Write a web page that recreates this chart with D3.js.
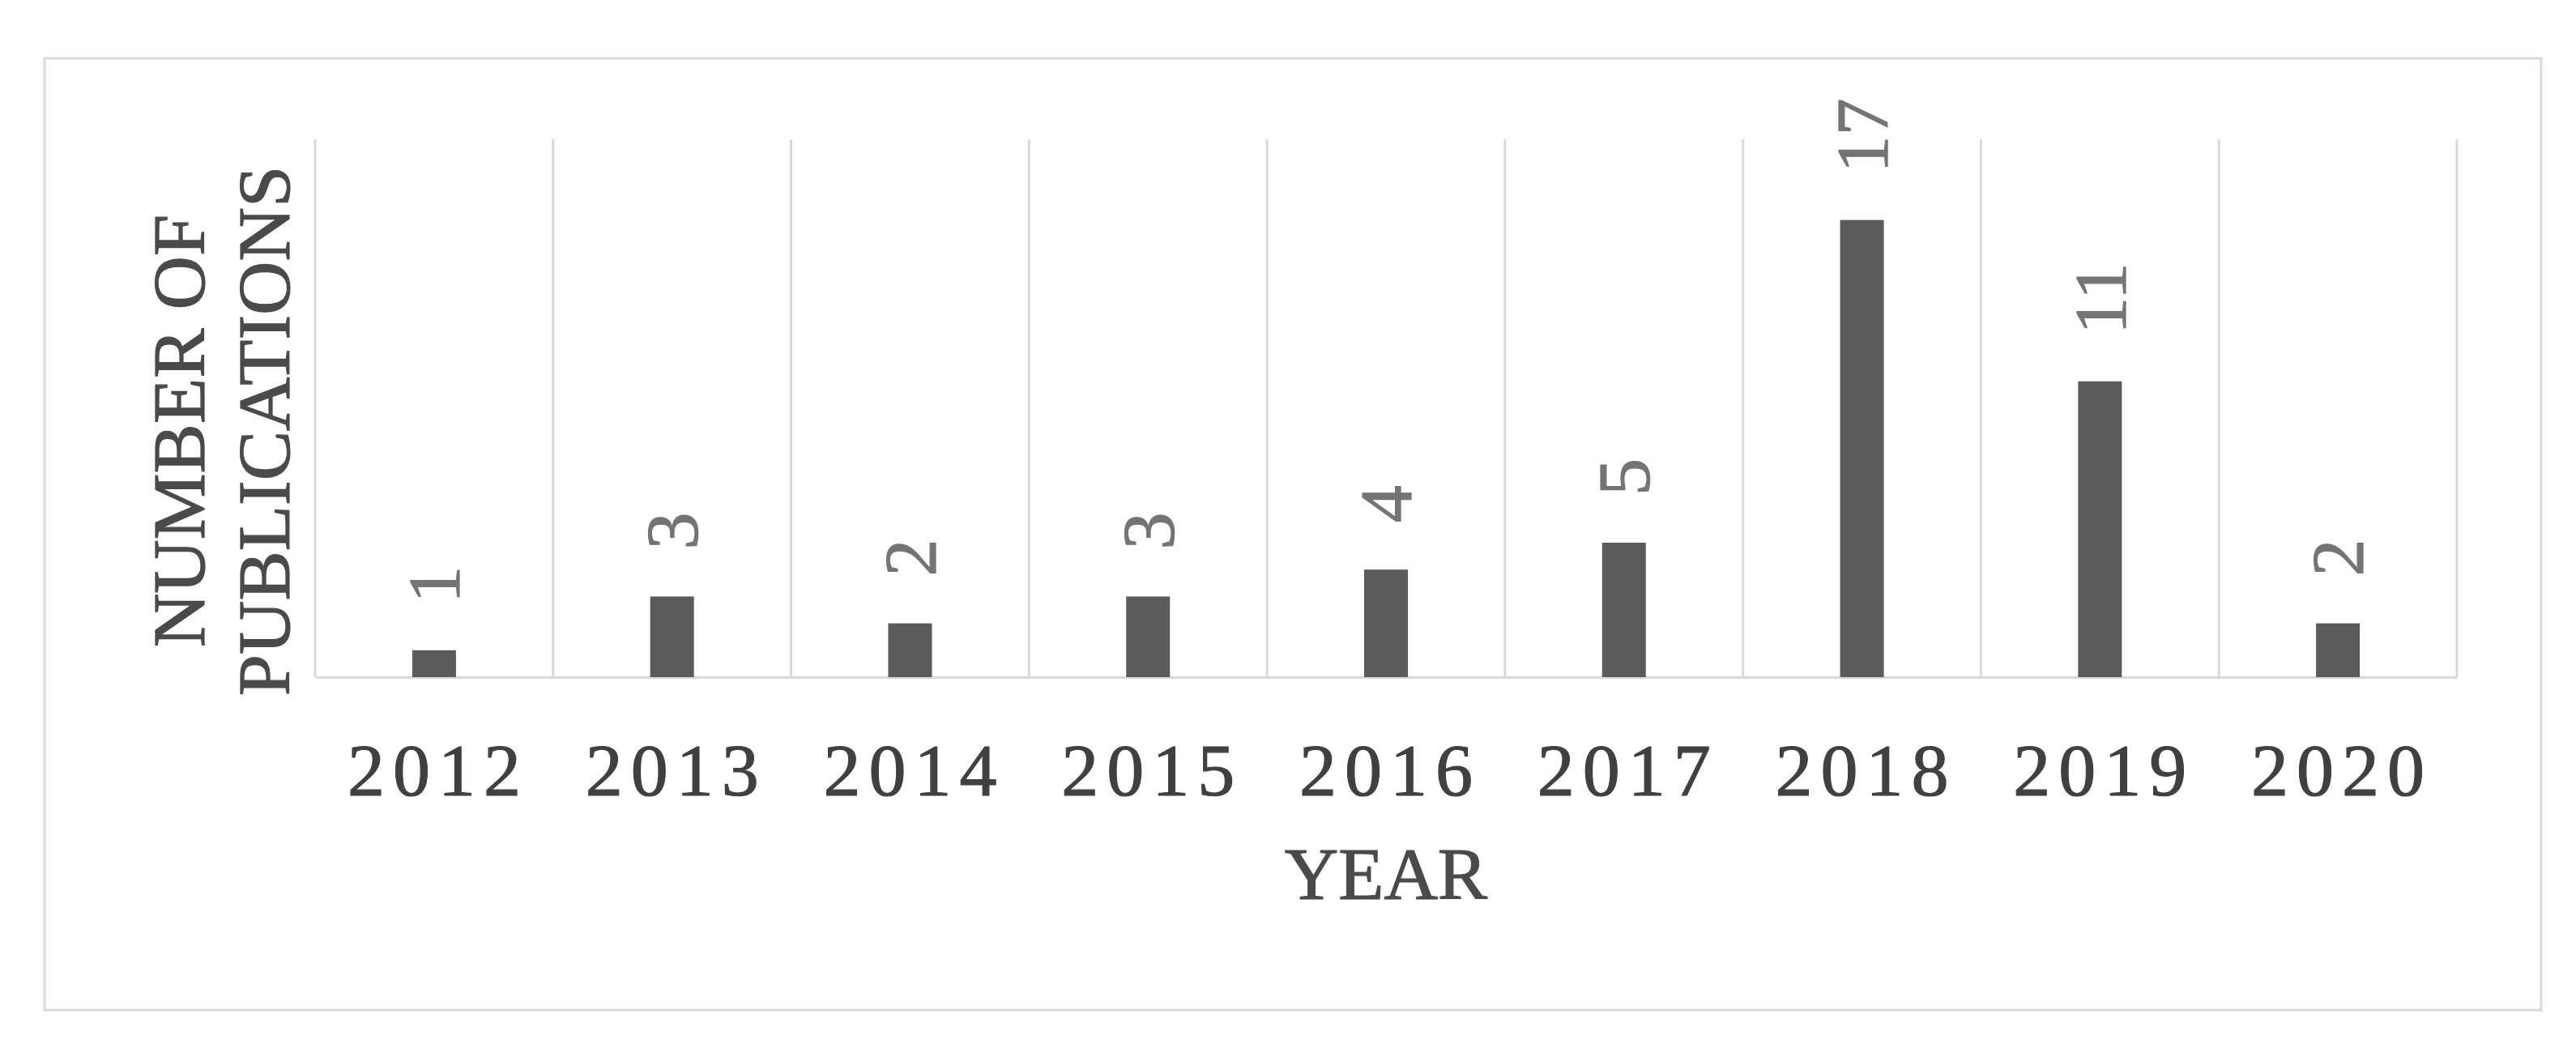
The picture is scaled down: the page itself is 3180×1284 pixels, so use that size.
<!DOCTYPE html>
<html>
<head>
<meta charset="utf-8">
<script src="https://cdn.jsdelivr.net/npm/d3@7"></script>
<style>
  html, body { margin: 0; padding: 0; background: #ffffff; }
  svg { display: block; }
  text { font-family: "Liberation Serif", "Times New Roman", serif; }
</style>
</head>
<body>
<div id="chart"></div>
<script>
const years = ["2012", "2013", "2014", "2015", "2016", "2017", "2018", "2019", "2020"];
const publications = [1, 3, 2, 3, 4, 5, 17, 11, 2];
const yAxisMax = 20;
const xTitle = "YEAR";
const yTitleLines = ["NUMBER OF", "PUBLICATIONS"];

const W = 3180, H = 1284;
const plot = { left: 389, right: 3033, top: 172, bottom: 836 };

const svg = d3.select("#chart").append("svg")
  .attr("width", W).attr("height", H);

svg.append("rect").attr("width", W).attr("height", H).attr("fill", "#ffffff");

// outer chart border
svg.append("rect")
  .attr("x", 55).attr("y", 72)
  .attr("width", 3137 - 55).attr("height", 1247 - 72)
  .attr("fill", "none").attr("stroke", "#d9d9d9").attr("stroke-width", 3);

const x = d3.scaleBand().domain(years).range([plot.left, plot.right]).paddingInner(0).paddingOuter(0);
const y = d3.scaleLinear().domain([0, yAxisMax]).range([plot.bottom, plot.top]);

// vertical gridlines at category boundaries
const bounds = years.map(d => x(d)).concat([x(years[years.length - 1]) + x.bandwidth()]);
svg.append("g").selectAll("line").data(bounds).join("line")
  .attr("x1", d => d).attr("x2", d => d)
  .attr("y1", y(yAxisMax)).attr("y2", y(0))
  .attr("stroke", "#d9d9d9").attr("stroke-width", 3);

// baseline axis
const xAxis = d3.axisBottom(x).tickSize(0).tickPadding(0).tickFormat("");
const gx = svg.append("g").attr("transform", `translate(0,${y(0)})`).call(xAxis);
gx.select(".domain").attr("stroke", "#d9d9d9").attr("stroke-width", 3);

// bars
const barW = 54;
svg.append("g").selectAll("rect").data(years).join("rect")
  .attr("x", (d) => x(d) + x.bandwidth() / 2 - barW / 2)
  .attr("width", barW)
  .attr("y", (d, i) => y(publications[i]))
  .attr("height", (d, i) => y(0) - y(publications[i]))
  .attr("fill", "#5b5b5b");

// value labels (rotated)
svg.append("g").selectAll("text").data(years).join("text")
  .attr("transform", (d, i) => `translate(${x(d) + x.bandwidth() / 2},${y(publications[i]) - 58}) rotate(-90)`)
  .attr("text-anchor", "start")
  .attr("dy", "0.34em")
  .attr("font-size", 92)
  .attr("fill", "#747474")
  .attr("stroke", "#747474").attr("stroke-width", 1.2)
  .text((d, i) => publications[i]);

// category labels
svg.append("g").selectAll("text").data(years).join("text")
  .attr("x", d => x(d) + x.bandwidth() / 2 + 5)
  .attr("y", 982)
  .attr("text-anchor", "middle")
  .attr("font-size", 92)
  .attr("letter-spacing", 10)
  .attr("fill", "#404040")
  .attr("stroke", "#404040").attr("stroke-width", 1.2)
  .text(d => d);

// x title
svg.append("text")
  .attr("x", (plot.left + plot.right) / 2)
  .attr("y", 1110)
  .attr("text-anchor", "middle")
  .attr("font-size", 92)
  .attr("fill", "#4a4a4a")
  .attr("stroke", "#4a4a4a").attr("stroke-width", 1.2)
  .text(xTitle);

// y title (two lines, rotated)
const yTitleBaselines = [252, 357];
svg.append("g").selectAll("text").data(yTitleLines).join("text")
  .attr("transform", (d, i) => `translate(${yTitleBaselines[i]},532) rotate(-90)`)
  .attr("text-anchor", "middle")
  .attr("font-size", 92)
  .attr("fill", "#4a4a4a")
  .attr("stroke", "#4a4a4a").attr("stroke-width", 1.2)
  .text(d => d);
</script>
</body>
</html>
